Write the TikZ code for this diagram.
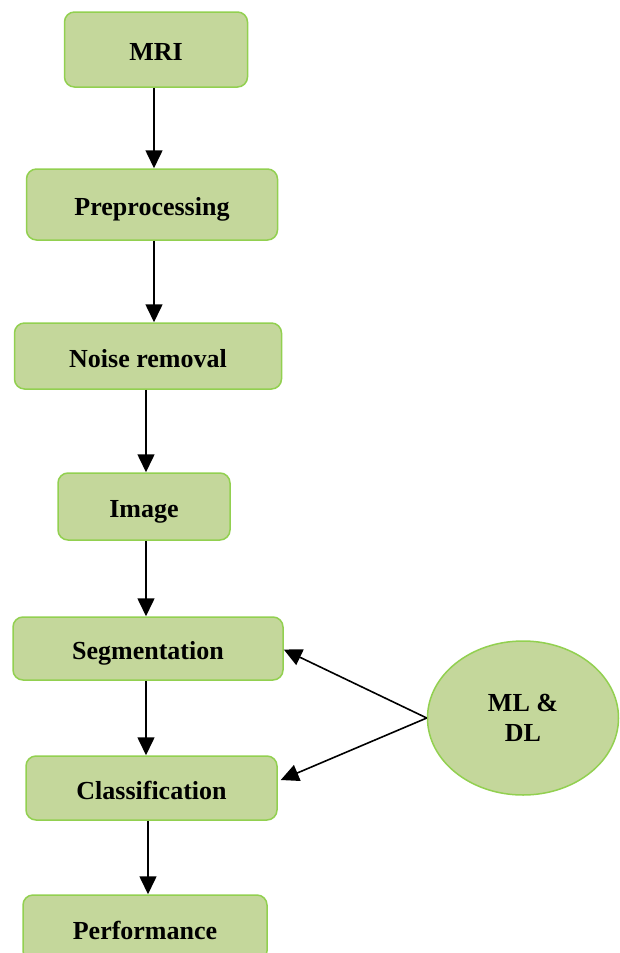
\documentclass[tikz,border=0pt]{standalone}
\usepackage{fontspec}
\setmainfont{Liberation Serif}
\usepackage{xcolor}
\usetikzlibrary{shapes.geometric, arrows.meta, positioning}

\definecolor{boxfill}{HTML}{C4D79B}
\definecolor{boxline}{HTML}{92D050}

\begin{document}
\begin{tikzpicture}[
  x=1pt, y=-1pt,
  box/.style={rectangle, rounded corners=10pt, draw=boxline, fill=boxfill,
              line width=1.5pt, text=black, align=center,
              text height=24pt, text depth=2pt,
              font=\fontsize{26}{30}\selectfont\bfseries},
  oval/.style={ellipse, draw=boxline, fill=boxfill, line width=1.5pt,
               text=black, align=center,
               font=\fontsize{26}{30}\selectfont\bfseries},
  arrow/.style={-{Triangle[length=18pt, width=17pt]}, line width=1.6pt},
]
  \useasboundingbox (0,0) rectangle (619,953);

  \node[box, minimum width=183pt, minimum height=75pt] (mri)   at (156,49.5)  {MRI};
  \node[box, minimum width=251pt, minimum height=71pt] (prep)  at (152,204.5) {Preprocessing};
  \node[box, minimum width=267pt, minimum height=66pt] (noise) at (148,356)   {Noise removal};
  \node[box, minimum width=172pt, minimum height=67pt] (img)   at (144,506.5) {Image};
  \node[box, minimum width=270pt, minimum height=63pt] (seg)   at (148,648.5) {Segmentation};
  \node[box, minimum width=251pt, minimum height=64pt] (cls)   at (151.5,788) {Classification};
  \node[box, minimum width=244pt, minimum height=66pt] (perf)  at (145,928)   {Performance};
  \node[oval, minimum width=191pt, minimum height=154pt] (mldl) at (523,718) {ML \&\\DL};

  \draw[arrow] (mri.south -| 154,0) -- (prep.north -| 154,0);
  \draw[arrow] (prep.south -| 154,0) -- (noise.north -| 154,0);
  \draw[arrow] (noise.south -| 146,0) -- (img.north -| 146,0);
  \draw[arrow] (img.south -| 146,0) -- (seg.north -| 146,0);
  \draw[arrow] (seg.south -| 146,0) -- (cls.north -| 146,0);
  \draw[arrow] (cls.south -| 148,0) -- (perf.north -| 148,0);

  \draw[arrow] (mldl.west) -- ([yshift=-1pt]seg.east);
  \draw[arrow] (mldl.west) -- ([xshift=3pt,yshift=8pt]cls.east);
\end{tikzpicture}
\end{document}
